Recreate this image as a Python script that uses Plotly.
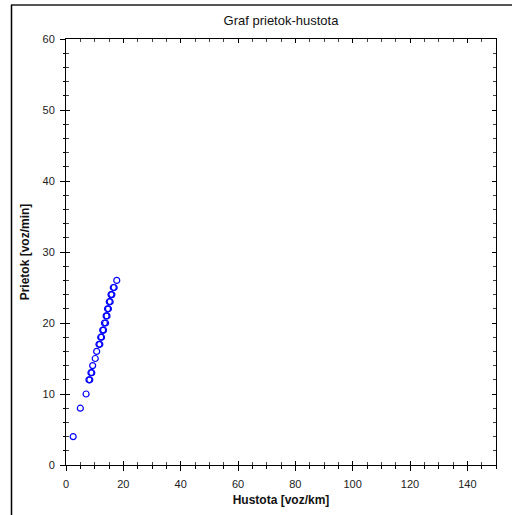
import plotly.graph_objects as go

# Data
density = [2.5, 5.0, 7.0, 8.0, 8.3, 8.7, 9.0, 9.3, 10.2, 10.7, 11.5, 11.8, 12.1, 12.4,
           12.8, 13.1, 13.4, 13.8, 14.0, 14.3, 14.5, 14.8, 15.1, 15.4, 15.7, 16.0,
           16.5, 16.8, 17.7]
flow = [4, 8, 10, 12, 12, 13, 13, 14, 15, 16, 17, 17, 18, 18, 19, 19, 20, 20, 21, 21,
        22, 22, 23, 23, 24, 24, 25, 25, 26]

x_ticks = [0, 20, 40, 60, 80, 100, 120, 140]
y_ticks = [0, 10, 20, 30, 40, 50, 60]

title_text = "Graf prietok-hustota"
x_title = "Hustota [voz/km]"
y_title = "Prietok [voz/min]"

W, H = 512, 515
L, R, T, B = 66, 16, 39, 50
pw, ph = W - L - R, H - T - B

FONT = "Arial, Liberation Sans, sans-serif"

fig = go.Figure()
fig.add_trace(go.Scatter(
    x=density, y=flow, mode="markers",
    marker=dict(symbol="circle-open", size=6, color="#0000ff",
                line=dict(width=1.2, color="#0000ff")),
    showlegend=False, hoverinfo="x+y"))
# empty trace to activate the overlay axes used for the outward tick halves
fig.add_trace(go.Scatter(x=[], y=[], xaxis="x2", yaxis="y2", showlegend=False))

common = dict(showgrid=False, zeroline=False, showline=True, linecolor="black",
              linewidth=1, tickcolor="black", tickwidth=1)

fig.update_layout(
    width=W, height=H,
    margin=dict(l=L, r=R, t=T, b=B, autoexpand=False),
    paper_bgcolor="white", plot_bgcolor="white",
    font=dict(family=FONT, size=11, color="#222222"),
    title=dict(text=title_text, x=0.5, xref="paper", xanchor="center",
               y=(H - 20) / H, yref="container", yanchor="middle",
               font=dict(family=FONT, size=13, color="#111111")),
    xaxis=dict(range=[0, 150], tickvals=x_ticks, ticks="inside", ticklen=4,
               mirror="allticks",
               minor=dict(dtick=5, tick0=0, ticks="inside", ticklen=3, tickcolor="#444444"),
               title=dict(text="<b>" + x_title + "</b>", standoff=6,
                          font=dict(family=FONT, size=12, color="#111111")),
               ticklabelstandoff=9, **common),
    yaxis=dict(range=[0, 60], tickvals=y_ticks, ticks="inside", ticklen=4,
               mirror="allticks",
               minor=dict(dtick=2, tick0=0, ticks="inside", ticklen=3, tickcolor="#444444"),
               title=dict(text="<b>" + y_title + "</b>", standoff=10,
                          font=dict(family=FONT, size=12, color="#111111")),
               ticklabelstandoff=8, **common),
    xaxis2=dict(overlaying="x", anchor="y", side="bottom", range=[0, 150],
                tickvals=x_ticks, ticks="outside", ticklen=5, showticklabels=False,
                minor=dict(dtick=5, tick0=0, ticks="outside", ticklen=3, tickcolor="black"),
                **common),
    yaxis2=dict(overlaying="y", anchor="x", side="left", range=[0, 60],
                tickvals=y_ticks, ticks="outside", ticklen=5, showticklabels=False,
                minor=dict(dtick=2, tick0=0, ticks="outside", ticklen=2, tickcolor="black"),
                **common),
)

# outer frame (top and left edges visible in the reference)
def px_x(p):
    return (p - L) / pw

def px_y(p):
    return (H - B - p) / ph

fig.add_shape(type="line", xref="paper", yref="paper",
              x0=px_x(11), x1=px_x(W + 2), y0=px_y(5), y1=px_y(5),
              line=dict(color="#555555", width=2))
fig.add_shape(type="line", xref="paper", yref="paper",
              x0=px_x(11.5), x1=px_x(11.5), y0=px_y(5), y1=px_y(H + 2),
              line=dict(color="black", width=1.5))

fig.write_html("out.html")
